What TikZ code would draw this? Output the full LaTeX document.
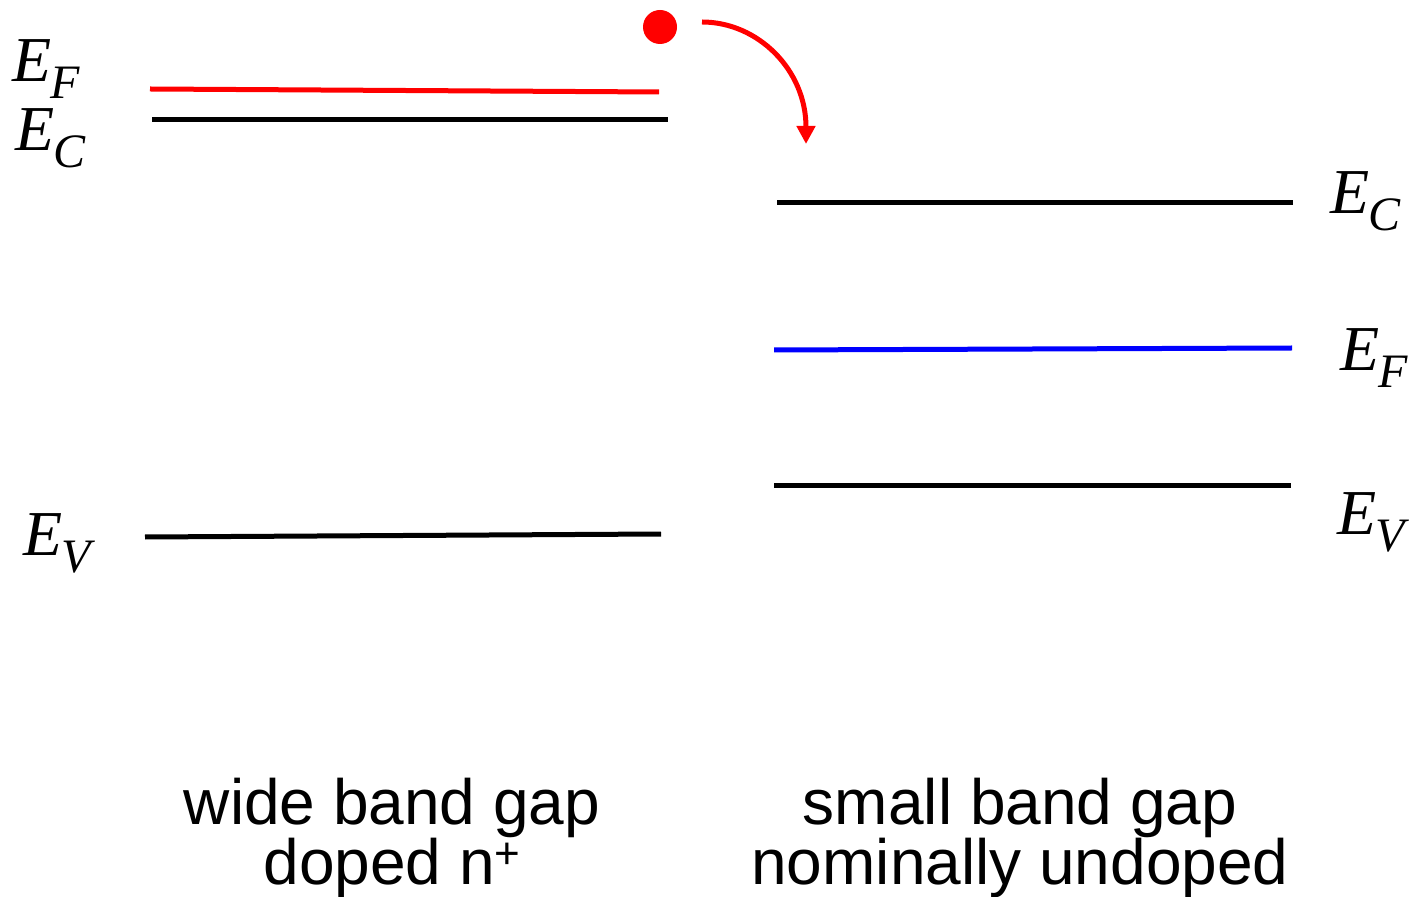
\documentclass[tikz,border=0pt]{standalone}
\usepackage{fontspec}
\setmainfont{Liberation Serif}
\newfontfamily\labsans{Liberation Sans}
\usetikzlibrary{arrows.meta}
\newcommand{\enlev}[1]{{\fontsize{32}{32}\selectfont\textit{E}}\kern-0.5pt\raisebox{-8.5pt}{\fontsize{24}{24}\selectfont\textit{#1}}}
\begin{document}
\begin{tikzpicture}[x=0.5pt,y=-0.5pt,
  band/.style={line width=2.5pt},
  elab/.style={inner sep=0pt,anchor=base west},
  caption/.style={align=center,font=\labsans\fontsize{32}{30}\selectfont,inner sep=0pt}]
\useasboundingbox (0,0) rectangle (1412,897);
% left side
\coordinate (lfa) at (150,89);  \coordinate (lfb) at (659,92);
\coordinate (lca) at (152,120); \coordinate (lcb) at (668,120);
\coordinate (lva) at (145,537); \coordinate (lvb) at (661,534);
% right side
\coordinate (rca) at (777,203); \coordinate (rcb) at (1293,203);
\coordinate (rfa) at (774,350); \coordinate (rfb) at (1292,348);
\coordinate (rva) at (774,486); \coordinate (rvb) at (1291,486);
\draw[band,red] (lfa) -- (lfb);
\draw[band] (lca) -- (lcb);
\draw[band] (lva) -- (lvb);
\draw[band] (rca) -- (rcb);
\draw[band,blue] (rfa) -- (rfb);
\draw[band] (rva) -- (rvb);
% labels
\node[elab] (lEF) at (12,82) {\enlev{F}};
\node[elab] (lEC) at (15,151) {\enlev{C}};
\node[elab] (lEV) at (23,555) {\enlev{V}};
\node[elab] (rEC) at (1330,214) {\enlev{C}};
\node[elab] (rEF) at (1340,371) {\enlev{F}};
\node[elab] (rEV) at (1337,534) {\enlev{V}};
% electron
\node[circle,fill=red,minimum size=17pt,inner sep=0pt] (dot) at (660,27) {};
\coordinate (as) at (702,22);
\coordinate (ae) at (806,144);
\draw[red,line width=2.5pt,-{Triangle[width=9pt,length=9pt]}] (as) .. controls (758,22) and (806,70) .. (ae);
% captions
\node[caption] (capL) at (392,838) {wide band gap\\doped n\raisebox{8pt}{\fontsize{22}{22}\selectfont+}};
\node[caption] (capR) at (1020,838) {small band gap\\nominally undoped};
\end{tikzpicture}
\end{document}
